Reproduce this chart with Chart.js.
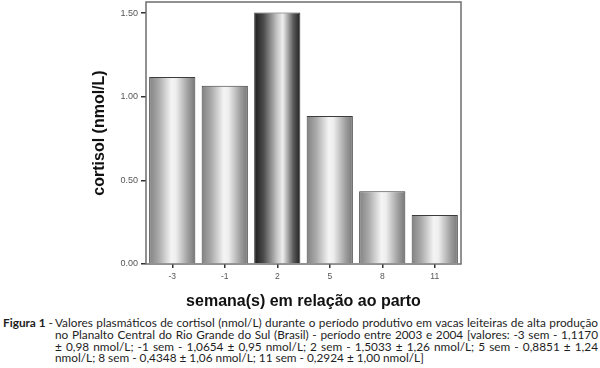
<!DOCTYPE html>
<html>
<head>
<meta charset="utf-8">
<script src="https://cdn.jsdelivr.net/npm/chart.js@4.4.0/dist/chart.umd.min.js"></script>
<style>
  body { margin: 0; background: #fff; width: 600px; height: 368px; overflow: hidden; position: relative; }
  #wrap { position: absolute; left: 0; top: 0; width: 600px; height: 310px; }
  .cap { position: absolute; left: 0; top: 317px; width: 600px; font-family: Lato, "Open Sans", sans-serif; font-size: 11.8px; line-height: 11.8px; color: #1e1e1e; }
  .cap div { white-space: nowrap; text-align: justify; text-align-last: justify; margin-left: 55px; width: 543px; position: relative; }
  .cap .fig { position: absolute; left: -52px; width: 49px; top: 0; text-align: right; text-align-last: right; }
  .cap .last { text-align-last: left; }
</style>
</head>
<body>
<div id="wrap"><canvas id="cortisolChart" width="600" height="310"></canvas></div>
<div class="cap">
  <div><span class="fig"><b>Figura 1</b> -</span>Valores plasmáticos de cortisol (nmol/L) durante o período produtivo em vacas leiteiras de alta produção</div>
  <div>no Planalto Central do Rio Grande do Sul (Brasil) - período entre 2003 e 2004 [valores: -3 sem - 1,1170</div>
  <div>± 0,98 nmol/L; -1 sem - 1,0654 ± 0,95 nmol/L; 2 sem - 1,5033 ± 1,26 nmol/L; 5 sem - 0,8851 ± 1,24</div>
  <div class="last">nmol/L; 8 sem - 0,4348 ± 1,06 nmol/L; 11 sem - 0,2924 ± 1,00 nmol/L]</div>
</div>
<script>
// weeks relative to calving and mean plasma cortisol (nmol/L)
const weeks = ['-3', '-1', '2', '5', '8', '11']
const cortisol = [1.1170, 1.0654, 1.5033, 0.8851, 0.4348, 0.2924]
const yTicks = [0, 0.5, 1.0, 1.5]
const darkBar = 2

// cylinder like shading for each bar
function barShade(context) {
    if (context.type !== 'data') return '#bbb'
    const chart = context.chart
    const xScale = chart.scales.x
    if (!xScale || !chart.chartArea) return '#bbb'
    let center = xScale.getPixelForValue(context.dataIndex)
    let w = (xScale.width / weeks.length) * 0.88
    let g = chart.ctx.createLinearGradient(center - w / 2, 0, center + w / 2, 0)
    if (context.dataIndex === darkBar) {
        g.addColorStop(0, '#1c1c1c')
        g.addColorStop(0.2, '#4a4a4a')
        g.addColorStop(0.5, '#c8c8c8')
        g.addColorStop(0.62, '#eeeeee')
        g.addColorStop(0.85, '#5a5a5a')
        g.addColorStop(1, '#202020')
    } else {
        g.addColorStop(0, '#828282')
        g.addColorStop(0.2, '#a8a8a8')
        g.addColorStop(0.48, '#f4f4f4')
        g.addColorStop(0.58, '#eeeeee')
        g.addColorStop(0.85, '#9c9c9c')
        g.addColorStop(1, '#777777')
    }
    return g
}

// box round the plot area
const frame = {
    id: 'frame',
    beforeDatasetsDraw(chart) {
        const {ctx, chartArea} = chart
        ctx.save()
        ctx.strokeStyle = '#6e6e6e'
        ctx.lineWidth = 1.5
        ctx.strokeRect(chartArea.left, chartArea.top, chartArea.right - chartArea.left, chartArea.bottom - chartArea.top)
        ctx.restore()
    }
}

const data = {
    labels: weeks,
    datasets: [{
        label: 'cortisol',
        data: cortisol,
        backgroundColor: barShade,
        borderColor: '#3c3c3c',
        borderWidth: 1,
        categoryPercentage: 1,
        barPercentage: 0.88
    }]
}

const config = {
    type: 'bar',
    data,
    options: {
        responsive: false,
        animation: false,
        layout: { padding: { left: 92, right: 139, top: 2, bottom: 0 } },
        plugins: {
            legend: { display: false },
            tooltip: { enabled: false }
        },
        scales: {
            x: {
                grid: { display: true, drawOnChartArea: false, offset: false, tickLength: 4, color: '#333', lineWidth: 1.5 },
                border: { display: false },
                ticks: { color: '#555', padding: 4, font: { family: 'Liberation Sans, Arial', size: 8.5 } },
                title: { display: true, text: 'semana(s) em relação ao parto', color: '#111', padding: 0,
                    font: { family: 'Liberation Sans, Arial', size: 16, weight: 'bold', lineHeight: 1 } },
                afterFit(scale) { scale.height = 46 }
            },
            y: {
                min: 0,
                max: 1.566,
                afterBuildTicks(scale) { scale.ticks = yTicks.map(v => ({ value: v })) },
                grid: { display: true, drawOnChartArea: false, tickLength: 5, color: '#333', lineWidth: 1.5 },
                border: { display: false },
                ticks: { color: '#555', padding: 3, font: { family: 'Liberation Sans, Arial', size: 9 },
                    callback: v => v.toFixed(2) },
                title: { display: true, text: 'cortisol (nmol/L)', color: '#111', padding: 0,
                    font: { family: 'Liberation Sans, Arial', size: 16, weight: 'bold', lineHeight: 1 } },
                afterFit(scale) {
                    scale.width = 54
                    scale.paddingTop = 0
                    scale.paddingBottom = 0
                }
            }
        }
    },
    plugins: [frame]
}

const myChart = new Chart(document.getElementById('cortisolChart'), config)
</script>
</body>
</html>
